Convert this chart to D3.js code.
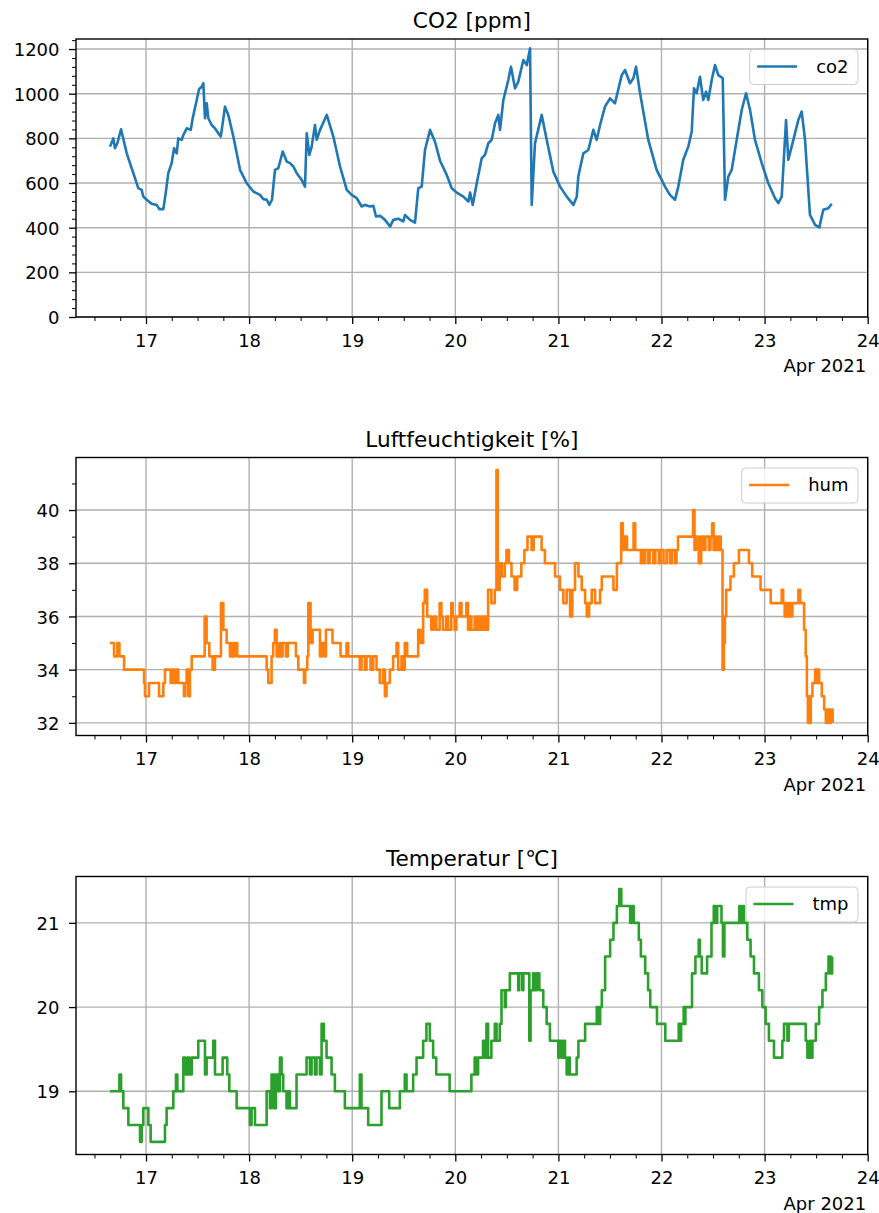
<!DOCTYPE html>
<html>
<head>
<meta charset="utf-8">
<script src="https://cdn.jsdelivr.net/npm/d3@7"></script>
<style>
  body { margin: 0; background: #fff; }
  svg { display: block; font-family: "DejaVu Sans", sans-serif; }
  .tick text { font-size: 18px; fill: #000; }
</style>
</head>
<body>
<div id="chart"></div>
<script>
// time as fractional day of April 2021
const co2Day = [16.651,16.683,16.699,16.722,16.758,16.813,16.877,16.925,16.958,16.974,
  17.007,17.055,17.104,17.129,17.168,17.191,17.216,17.249,17.272,17.298,
  17.313,17.346,17.362,17.395,17.434,17.453,17.492,17.514,17.540,17.556,
  17.572,17.589,17.604,17.637,17.669,17.701,17.725,17.744,17.766,17.798,
  17.847,17.912,17.977,18.041,18.106,18.138,18.171,18.196,18.222,18.251,
  18.283,18.326,18.365,18.397,18.429,18.462,18.510,18.542,18.559,18.584,
  18.607,18.639,18.656,18.688,18.753,18.817,18.882,18.947,18.995,19.044,
  19.092,19.124,19.173,19.205,19.231,19.270,19.318,19.367,19.399,19.447,
  19.496,19.512,19.561,19.609,19.641,19.674,19.706,19.755,19.803,19.852,
  19.917,19.965,20.014,20.078,20.127,20.143,20.169,20.208,20.256,20.288,
  20.320,20.353,20.385,20.417,20.434,20.466,20.514,20.540,20.579,20.611,
  20.660,20.693,20.725,20.741,20.773,20.838,20.887,20.951,21.016,21.081,
  21.145,21.178,21.193,21.242,21.290,21.339,21.371,21.404,21.452,21.501,
  21.549,21.614,21.646,21.694,21.727,21.753,21.792,21.872,21.953,22.034,
  22.082,22.131,22.163,22.211,22.260,22.293,22.315,22.341,22.373,22.405,
  22.432,22.454,22.487,22.519,22.551,22.594,22.616,22.648,22.681,22.729,
  22.778,22.820,22.859,22.907,22.972,23.036,23.101,23.133,23.166,23.208,
  23.230,23.279,23.327,23.360,23.392,23.440,23.489,23.531,23.554,23.570,
  23.618,23.651];
const co2Val = [763,800,756,778,841,733,644,577,569,539,
  525,507,502,483,483,554,644,689,756,733,
  800,793,815,845,838,890,972,1020,1031,1047,
  890,957,890,860,845,823,808,868,942,905,
  808,659,599,562,547,528,525,502,525,659,
  666,741,696,689,674,644,614,584,823,726,
  763,860,793,838,905,808,674,569,547,532,
  495,502,495,498,450,453,435,405,435,440,
  428,457,435,423,577,584,748,838,785,700,
  636,577,557,539,517,557,502,599,711,726,
  778,793,868,905,838,972,1061,1121,1024,1054,
  1151,1128,1203,502,778,905,793,651,584,539,
  502,539,629,733,748,838,793,860,942,979,
  957,1083,1106,1047,1069,1121,1002,793,659,584,
  547,525,584,704,763,830,1024,1002,1076,972,
  1009,972,1061,1128,1083,1069,525,629,659,793,
  927,1002,927,793,689,599,532,510,539,882,
  704,793,882,920,793,457,413,401,450,480,
  487,507];

const humDay = [16.651,16.690,16.722,16.742,16.787,16.981,16.990,17.029,17.126,17.168,
  17.184,17.239,17.258,17.271,17.291,17.313,17.368,17.381,17.394,17.410,
  17.426,17.443,17.569,17.588,17.614,17.646,17.669,17.727,17.750,17.782,
  17.814,17.830,17.847,17.863,17.885,18.170,18.186,18.218,18.234,18.250,
  18.267,18.292,18.305,18.325,18.357,18.376,18.454,18.477,18.532,18.544,
  18.564,18.574,18.596,18.616,18.687,18.703,18.725,18.745,18.809,18.887,
  18.945,18.961,19.074,19.090,19.123,19.139,19.178,19.204,19.236,19.268,
  19.300,19.317,19.333,19.365,19.397,19.430,19.446,19.478,19.494,19.510,
  19.533,19.640,19.662,19.688,19.704,19.727,19.766,19.790,19.815,19.848,
  19.865,19.880,19.912,19.930,19.961,19.975,19.994,20.010,20.042,20.060,
  20.107,20.123,20.140,20.156,20.188,20.200,20.221,20.235,20.253,20.270,
  20.285,20.300,20.318,20.350,20.383,20.399,20.412,20.430,20.452,20.480,
  20.496,20.520,20.545,20.575,20.600,20.640,20.670,20.700,20.740,20.760,
  20.837,20.869,20.967,21.015,21.048,21.080,21.113,21.135,21.161,21.194,
  21.226,21.259,21.275,21.298,21.323,21.356,21.404,21.421,21.534,21.567,
  21.609,21.625,21.641,21.665,21.729,21.745,21.800,21.810,21.826,21.840,
  21.870,21.885,21.920,21.940,21.975,21.990,22.020,22.050,22.080,22.100,
  22.130,22.145,22.160,22.306,22.320,22.335,22.361,22.385,22.410,22.426,
  22.459,22.475,22.491,22.505,22.523,22.540,22.556,22.575,22.592,22.605,
  22.615,22.627,22.669,22.702,22.751,22.848,22.880,22.961,23.059,23.166,
  23.180,23.195,23.210,23.225,23.240,23.255,23.270,23.328,23.345,23.383,
  23.399,23.410,23.420,23.432,23.440,23.448,23.464,23.490,23.500,23.510,
  23.529,23.555,23.578,23.594,23.610,23.626,23.643,23.660];
const humVal = [35,34.5,35,34.5,34,33.5,33,33.5,33,33.5,
  34,33.5,34,33.5,34,33.5,33,33.5,34,33,
  34,34.5,36,35,34.5,34,34.5,36.5,35.5,35,
  34.5,35,34.5,35,34.5,34,33.5,34.5,35,35.5,
  34.5,35,34.5,35,34.5,35,34.5,34,33.5,34,
  34.5,36.5,35,35.5,34.5,35,34.5,35.5,35,34.5,
  35,34.5,34,34.5,34,34.5,34,34.5,34,33.5,
  34,33,33.5,34,34.5,35,34,34.5,34,35,
  34.5,35.5,35,36.5,37,36,35.5,36,35.5,36.5,
  36,35.5,36,35.5,36.5,36,35.5,36,36.5,36,
  36.5,35.5,36,35.5,36,35.5,36,35.5,36,35.5,
  36,35.5,37,36.5,37,41.5,37,38,37.5,38,
  38.5,38,37.5,37,37.5,38,38.5,39,38.5,39,
  38.5,38,37.5,37,36.5,37,36,37,38,37.5,
  37,36.5,36,36.5,37,36.5,37,37.5,37,38,
  39.5,38.5,39,38.5,39.5,38.5,38,38.5,38,38.5,
  38,38.5,38,38.5,38,38.5,38,38.5,38,38.5,
  38,38.5,39,40,38.5,39,38,39,38.5,39,
  38.5,39,39.5,38.5,39,38.5,39,38.5,34,35,
  36,37,37.5,38,38.5,38,37.5,37,36.5,37,
  36.5,36,36.5,36,36.5,36,36.5,37,36.5,35.5,
  34.5,33,32,33,32,33,33.5,34,33.5,34,
  33.5,33,32.5,32,32.5,32,32.5,32];

const tmpDay = [16.651,16.742,16.758,16.780,16.829,16.942,16.958,16.974,17.023,17.045,
  17.184,17.200,17.265,17.291,17.304,17.362,17.378,17.401,17.420,17.443,
  17.507,17.572,17.588,17.653,17.669,17.743,17.788,17.808,17.879,18.008,
  18.024,18.057,18.170,18.202,18.218,18.241,18.260,18.283,18.299,18.315,
  18.331,18.363,18.380,18.396,18.460,18.557,18.590,18.606,18.638,18.654,
  18.687,18.703,18.725,18.751,18.800,18.832,18.929,19.074,19.090,19.155,
  19.284,19.359,19.462,19.510,19.527,19.591,19.624,19.688,19.720,19.753,
  19.785,19.815,19.945,20.156,20.188,20.205,20.221,20.269,20.290,20.302,
  20.318,20.350,20.383,20.400,20.431,20.448,20.480,20.490,20.529,20.610,
  20.620,20.650,20.660,20.718,20.730,20.755,20.772,20.790,20.815,20.853,
  20.886,20.918,20.999,21.010,21.030,21.048,21.064,21.080,21.100,21.110,
  21.177,21.194,21.259,21.372,21.390,21.405,21.421,21.453,21.502,21.534,
  21.567,21.590,21.610,21.696,21.710,21.730,21.780,21.800,21.842,21.870,
  21.891,21.956,22.037,22.167,22.180,22.190,22.215,22.225,22.232,22.296,
  22.329,22.361,22.372,22.390,22.442,22.485,22.507,22.525,22.540,22.582,
  22.596,22.610,22.755,22.770,22.790,22.800,22.832,22.864,22.897,22.945,
  22.978,23.010,23.042,23.091,23.172,23.188,23.221,23.235,23.399,23.415,
  23.440,23.450,23.464,23.497,23.529,23.561,23.594,23.620,23.640,23.655];
const tmpVal = [19.0,19.2,19.0,18.8,18.6,18.4,18.6,18.8,18.6,18.4,
  18.6,18.8,19.0,19.2,19.0,19.4,19.2,19.4,19.2,19.4,
  19.6,19.2,19.4,19.6,19.2,19.4,19.2,19.0,18.8,18.6,
  18.8,18.6,19.0,18.8,19.2,18.8,19.2,19.0,19.4,19.2,
  19.0,18.8,19.0,18.8,19.2,19.4,19.2,19.4,19.2,19.4,
  19.2,19.8,19.6,19.4,19.2,19.0,18.8,19.2,18.8,18.6,
  19.0,18.8,19.0,19.2,19.0,19.2,19.4,19.6,19.8,19.6,
  19.4,19.2,19.0,19.2,19.4,19.2,19.4,19.6,19.4,19.8,
  19.4,19.6,19.8,19.6,19.8,20.2,20.0,20.2,20.4,20.2,
  20.4,20.2,20.4,19.6,20.2,20.4,20.2,20.4,20.2,20.0,
  19.8,19.6,19.4,19.6,19.4,19.6,19.4,19.2,19.4,19.2,
  19.4,19.6,19.8,20.0,19.8,20.0,20.2,20.6,20.8,21.0,
  21.2,21.4,21.2,21.0,21.2,21.0,20.8,20.6,20.4,20.2,
  20.0,19.8,19.6,19.8,19.6,19.8,20.0,19.8,20.0,20.4,
  20.6,20.8,20.6,20.4,20.6,21.0,21.2,21.0,21.2,21.0,
  20.6,21.0,21.2,21.0,21.2,21.0,20.8,20.6,20.4,20.2,
  20.0,19.8,19.6,19.4,19.6,19.8,19.6,19.8,19.6,19.4,
  19.6,19.4,19.6,19.8,20.0,20.2,20.4,20.6,20.4,20.6];

const dayTicks = [17, 18, 19, 20, 21, 22, 23, 24];
const co2Ticks = [0, 200, 400, 600, 800, 1000, 1200];
const co2Minor = d3.range(0, 1241, 40);
const humTicks = [32, 34, 36, 38, 40];
const humMinor = [33, 35, 37, 39, 41];
const tmpTicks = [19, 20, 21];
const titles = ["CO2 [ppm]", "Luftfeuchtigkeit [%]", "Temperatur [℃]"];
const seriesNames = ["co2", "hum", "tmp"];
const offsetLabel = "Apr 2021";

const width = 879, height = 1213;
const left = 76, right = 867.7;
const panelTop = [39, 457.5, 876.5];
const panelH = 278;

const toDate = (d) => new Date(Date.UTC(2021, 2, 31) + d * 864e5);

const svg = d3.select("#chart").append("svg")
  .attr("width", width).attr("height", height);

const x = d3.scaleUtc()
  .domain([toDate(16.321), toDate(24)])
  .range([left, right]);

const minorX = d3.utcHour.every(6)
  .range(toDate(16.321), toDate(24.001))
  .filter((d) => d.getUTCHours() !== 0);

const panels = [
  { day: co2Day, val: co2Val, color: "#1f77b4", domain: [0, 1245], ticks: co2Ticks,
    minor: co2Minor.filter((v) => v % 200 !== 0), curve: d3.curveLinear },
  { day: humDay, val: humVal, color: "#ff7f0e", domain: [31.525, 41.975], ticks: humTicks,
    minor: humMinor, curve: d3.curveStepAfter },
  { day: tmpDay, val: tmpVal, color: "#2ca02c", domain: [18.25, 21.55], ticks: tmpTicks,
    minor: [], curve: d3.curveStepAfter },
];

panels.forEach((p, i) => {
  const top = panelTop[i];
  const bottom = top + panelH;
  const y = d3.scaleLinear().domain(p.domain).range([bottom, top]);
  const g = svg.append("g");

  // grid
  g.append("g").selectAll("line").data(dayTicks).join("line")
    .attr("x1", (d) => x(toDate(d))).attr("x2", (d) => x(toDate(d)))
    .attr("y1", top).attr("y2", bottom)
    .attr("stroke", "#b0b0b0").attr("stroke-width", 1.4);
  g.append("g").selectAll("line").data(p.ticks).join("line")
    .attr("x1", left).attr("x2", right)
    .attr("y1", (d) => y(d)).attr("y2", (d) => y(d))
    .attr("stroke", "#b0b0b0").attr("stroke-width", 1.4);

  // clip
  svg.append("clipPath").attr("id", "clip" + i)
    .append("rect").attr("x", left).attr("y", top)
    .attr("width", right - left).attr("height", panelH);

  const line = d3.line()
    .x((d, j) => x(toDate(p.day[j])))
    .y((d) => y(d))
    .curve(p.curve);

  g.append("path").datum(p.val)
    .attr("d", line)
    .attr("fill", "none")
    .attr("stroke", p.color)
    .attr("stroke-width", 2.6)
    .attr("stroke-linejoin", "round")
    .attr("clip-path", `url(#clip${i})`);

  // axes
  const xAxis = d3.axisBottom(x)
    .tickValues(dayTicks.map(toDate))
    .tickFormat(d3.utcFormat("%-d"))
    .tickSize(7).tickPadding(10);
  const xg = g.append("g").attr("transform", `translate(0,${bottom})`).call(xAxis);
  const xMinorAxis = d3.axisBottom(x).tickValues(minorX).tickFormat("").tickSize(4);
  const xmg = g.append("g").attr("transform", `translate(0,${bottom})`).call(xMinorAxis);

  const yAxis = d3.axisLeft(y).tickValues(p.ticks)
    .tickFormat(d3.format("d")).tickSize(7).tickPadding(9.5);
  const yg = g.append("g").attr("transform", `translate(${left},0)`).call(yAxis);
  yg.selectAll(".tick text").attr("dy", "0.365em");
  const yMinorAxis = d3.axisLeft(y).tickValues(p.minor).tickFormat("").tickSize(4);
  const ymg = g.append("g").attr("transform", `translate(${left},0)`).call(yMinorAxis);

  [xg, xmg, yg, ymg].forEach((a) => {
    a.select(".domain").remove();
    a.attr("font-family", null).attr("font-size", null);
    a.selectAll(".tick line").attr("stroke", "#000").attr("stroke-width", 1.3);
  });
  [xmg, ymg].forEach((a) => a.selectAll(".tick line").attr("stroke-width", 1.0));

  // spines
  g.append("rect")
    .attr("x", left).attr("y", top)
    .attr("width", right - left).attr("height", panelH)
    .attr("fill", "none").attr("stroke", "#000").attr("stroke-width", 1.4);

  // title
  g.append("text")
    .attr("x", (left + right) / 2).attr("y", top - 11)
    .attr("text-anchor", "middle")
    .style("font-size", "21.6px")
    .text(titles[i]);

  // offset label
  g.append("text")
    .attr("x", right - 1.5).attr("y", bottom + 55)
    .attr("text-anchor", "end")
    .style("font-size", "18px")
    .text(offsetLabel);

  // legend
  const lg = g.append("g");
  const boxTop = top + 10.5;
  const boxRect = lg.append("rect");
  const lt = lg.append("text").style("font-size", "18px").text(seriesNames[i]);
  const tw = lt.node().getComputedTextLength();
  const boxW = tw + 76;
  const boxX = 858 - boxW;
  boxRect.attr("x", boxX).attr("y", boxTop).attr("width", boxW).attr("height", 35)
    .attr("rx", 4).attr("fill", "#fff").attr("fill-opacity", 0.8)
    .attr("stroke", "#cccccc").attr("stroke-width", 1);
  lg.append("line")
    .attr("x1", boxX + 7.5).attr("x2", boxX + 47.5)
    .attr("y1", boxTop + 17).attr("y2", boxTop + 17)
    .attr("stroke", p.color).attr("stroke-width", 2.6);
  lt.attr("x", boxX + 66.5).attr("y", boxTop + 17).attr("dy", "0.35em");
});
</script>
</body>
</html>
